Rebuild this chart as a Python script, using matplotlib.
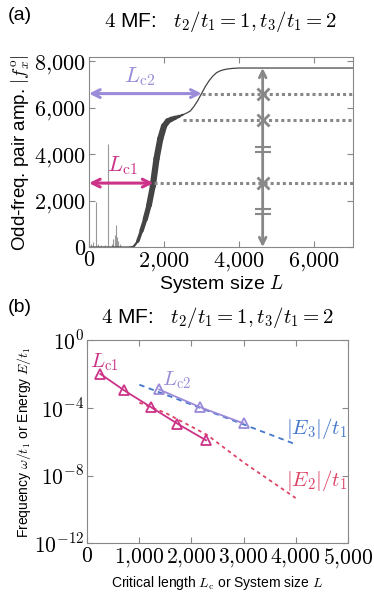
import matplotlib
matplotlib.use('Agg')
import matplotlib.pyplot as plt
from matplotlib.collections import LineCollection
import numpy as np

plt.rcParams.update({"font.family": ["Liberation Sans", "DejaVu Sans"],
                     "mathtext.fontset": "cm",
                     "axes.edgecolor": "#888888",
                     "xtick.color": "#888888", "ytick.color": "#888888",
                     "xtick.labelcolor": "black", "ytick.labelcolor": "black"})

C_LC1 = "#cc3388"
C_LC2 = "#9b8bd8"
C_E3 = "#4477cc"
C_E2 = "#dd4466"
C_GRAY = "#888888"

# ── panel (a) data ───────────────────────────────────────────────────────────
L_curve = [0, 1000, 1100, 1200, 1300, 1400, 1500, 1600, 1700, 1800, 1900, 2000,
           2100, 2200, 2300, 2400, 2500, 2600, 2700, 2800, 2900, 3000, 3100,
           3200, 3300, 3400, 3500, 3600, 3700, 3800, 4000, 7040]
amp_curve = [0, 0, 5, 40, 250, 700, 1200, 1800, 2620, 3800, 4650, 5200,
             5420, 5500, 5560, 5620, 5690, 5760, 5850, 6050, 6300, 6600, 6900,
             7150, 7350, 7500, 7580, 7630, 7660, 7680, 7700, 7700]
band_from, band_to = 1200, 2500
band_lw = [1.5, 2.5, 3.2, 3.8, 4.2, 4.5, 4.5, 4.5, 4.2, 3.8, 3.2, 2.4, 1.5]

spike_L = [60, 110, 180, 240, 320, 420, 510, 600, 640, 680, 711, 740, 780, 830]
spike_h = [120, 200, 1940, 120, 80, 100, 4420, 150, 350, 500, 930, 450, 250, 120]

Lc1_a, amp_Lc1 = 1720, 2750
Lc2_a, amp_Lc2 = 3005, 6600
L_mid, amp_mid = 2500, 5450
L_bar = 4630
amp_top = 7700
break_marks = [4310, 4090, 1650, 1440]

# ── panel (b) data ───────────────────────────────────────────────────────────
Lc1_L = [250, 700, 1220, 1730, 2280]
Lc1_w = [1.0e-2, 1.1e-3, 1.1e-4, 1.15e-5, 1.2e-6]
Lc2_L = [1380, 2160, 3000]
Lc2_w = [1.2e-3, 1.1e-4, 1.2e-5]
E3_L = [1000, 2500, 4000]
E3_val = [2.3e-3, 4.0e-5, 7.0e-7]
E2_L = [1000, 1500, 2300, 3000, 4000]
E2_val = [2.0e-4, 5.0e-5, 2.5e-6, 6.0e-8, 4.7e-10]

fig = plt.figure(figsize=(3.74, 5.99), dpi=100)

# ── (a) ───────────────────────────────────────────────────────────────────────
ax = fig.add_axes([0.238, 0.5876, 0.706, 0.3167])
ax.vlines(spike_L, 0, spike_h, color="#999999", lw=0.8)
ax.plot(L_curve, amp_curve, color="#444444", lw=0.9)
Lc = np.array(L_curve)
Ac = np.array(amp_curve)
m = (Lc >= band_from) & (Lc <= band_to)
pts = np.column_stack([Lc[m], Ac[m]])
segs = [pts[i:i + 2] for i in range(len(pts) - 1)]
ax.add_collection(LineCollection(segs, linewidths=band_lw, colors="#444444",
                                 capstyle="round", joinstyle="round"))

dot = (0, (1, 1))
for x0, y0 in [(Lc1_a, amp_Lc1), (L_mid, amp_mid), (Lc2_a, amp_Lc2)]:
    ax.plot([x0, 7040], [y0, y0], color=C_GRAY, lw=2.2, linestyle=dot)

ax.annotate("", xy=(0, amp_Lc1), xytext=(Lc1_a, amp_Lc1),
            arrowprops=dict(arrowstyle="<->", color=C_LC1, lw=2.2,
                            mutation_scale=14, shrinkA=0, shrinkB=0))
ax.annotate("", xy=(0, amp_Lc2), xytext=(Lc2_a, amp_Lc2),
            arrowprops=dict(arrowstyle="<->", color=C_LC2, lw=2.2,
                            mutation_scale=14, shrinkA=0, shrinkB=0))
ax.text(900, amp_Lc1 + 250, r"$L_{\rm c1}$", color=C_LC1, fontsize=16,
        ha="center", va="bottom")
ax.text(1350, amp_Lc2 + 250, r"$L_{\rm c2}$", color=C_LC2, fontsize=16,
        ha="center", va="bottom")

ax.annotate("", xy=(L_bar, 0), xytext=(L_bar, amp_top),
            arrowprops=dict(arrowstyle="<->", color=C_GRAY, lw=2,
                            mutation_scale=12, shrinkA=0, shrinkB=0))
ax.plot([L_bar] * 3, [amp_Lc2, amp_mid, amp_Lc1], "x", color=C_GRAY,
        ms=8, mew=2)
ax.plot([L_bar] * len(break_marks), break_marks, "_", color=C_GRAY,
        ms=12, mew=1.5)

ax.set_xlim(0, 7040)
ax.set_ylim(0, 8160)
ax.set_xticks([0, 2000, 4000, 6000])
ax.set_xticklabels([r"$0$", r"$2{,}000$", r"$4{,}000$", r"$6{,}000$"])
ax.set_yticks([0, 2000, 4000, 6000, 8000])
ax.set_yticklabels([r"$0$", r"$2{,}000$", r"$4{,}000$", r"$6{,}000$", r"$8{,}000$"])
ax.tick_params(direction="in", top=True, right=True, labelsize=16, length=4,
               pad=2)
ax.set_xlabel(r"System size $L$", fontsize=14, labelpad=0)
ax.set_ylabel(r"Odd-freq. pair amp. $|f_x^{\rm o}|$", fontsize=13.5, labelpad=2)
ax.set_title(r"$4$ MF:   $t_2/t_1=1,t_3/t_1=2$", fontsize=15, pad=22)
fig.text(0.02, 0.988, "(a)", fontsize=14, va="top")

# ── (b) ───────────────────────────────────────────────────────────────────────
bx = fig.add_axes([0.2334, 0.093, 0.6963, 0.3394])
bx.set_yscale("log")
bx.plot(E3_L, E3_val, color=C_E3, lw=1.3, linestyle=(0, (3, 2.5)))
bx.plot(E2_L, E2_val, color=C_E2, lw=1.3, linestyle=(0, (2, 2)))
bx.plot(Lc1_L, Lc1_w, color=C_LC1, lw=1.3, marker="^", ms=7, mfc="none", mew=1.3)
bx.plot(Lc2_L, Lc2_w, color=C_LC2, lw=1.3, marker="^", ms=7, mfc="none", mew=1.3)
bx.text(330, 5e-2, r"$L_{\rm c1}$", color=C_LC1, fontsize=15, ha="center",
        va="center")
bx.text(1720, 4.5e-3, r"$L_{\rm c2}$", color=C_LC2, fontsize=15, ha="center",
        va="center")
bx.text(4400, 6e-6, r"$|E_3|/t_1$", color=C_E3, fontsize=15, ha="center",
        va="center")
bx.text(4400, 5e-9, r"$|E_2|/t_1$", color=C_E2, fontsize=15, ha="center",
        va="center")

bx.set_xlim(0, 5000)
bx.set_ylim(1e-12, 1e0)
bx.set_xticks([0, 1000, 2000, 3000, 4000, 5000])
bx.set_xticklabels([r"$0$", r"$1{,}000$", r"$2{,}000$", r"$3{,}000$",
                    r"$4{,}000$", r"$5{,}000$"])
bx.set_yticks([1e-12, 1e-8, 1e-4, 1e0])
bx.set_yticklabels([r"$10^{-12}$", r"$10^{-8}$", r"$10^{-4}$", r"$10^{0}$"])
bx.minorticks_off()
bx.tick_params(direction="in", top=True, right=True, labelsize=15.5, length=4,
               pad=2)
bx.set_xlabel(r"Critical length $L_{\rm c}$ or System size $L$", fontsize=10,
              labelpad=3)
bx.set_ylabel(r"Frequency $\omega/t_1$ or Energy $E/t_1$", fontsize=10,
              labelpad=1)
bx.set_title(r"$4$ MF:   $t_2/t_1=1,t_3/t_1=2$", fontsize=15, pad=12)
fig.text(0.02, 0.50, "(b)", fontsize=14, va="top")

fig.savefig("out.png", dpi=100)
